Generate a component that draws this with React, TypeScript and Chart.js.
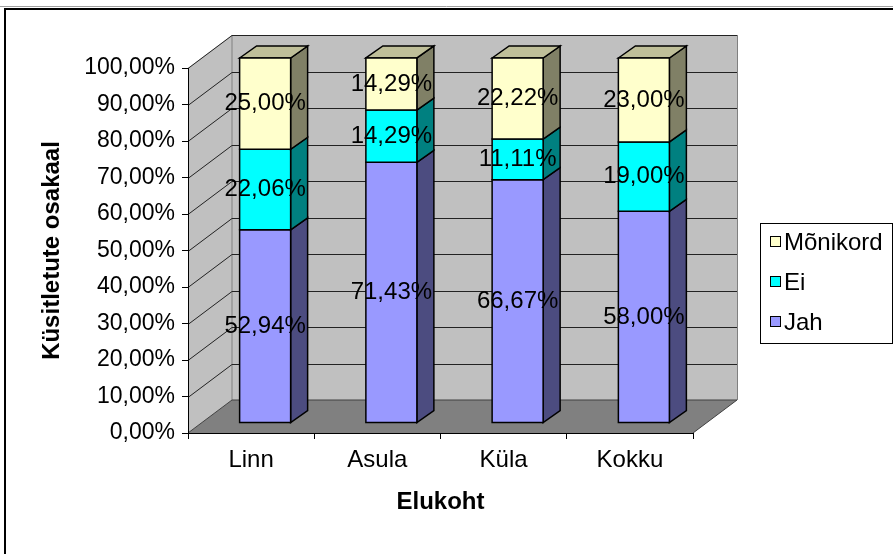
import React, { useEffect, useRef } from 'react';
import { Chart, registerables } from 'chart.js';

Chart.register(...registerables);

const categories = ['Linn', 'Asula', 'Küla', 'Kokku'];
const jahValues = [52.94, 71.43, 66.67, 58.0];
const eiValues = [22.06, 14.29, 11.11, 19.0];
const monikordValues = [25.0, 14.29, 22.22, 23.0];
const seriesNames = ['Jah', 'Ei', 'Mõnikord'];
const yTickLabels = ['0,00%', '10,00%', '20,00%', '30,00%', '40,00%', '50,00%', '60,00%', '70,00%', '80,00%', '90,00%', '100,00%'];
const xTitle = 'Elukoht';
const yTitle = 'Küsitletute osakaal';

const FONT = '"Liberation Sans", Arial, sans-serif';
const FS = 23;
const FL = 24;
const WALL = { x: 44, y: -33 };
const BAR_OFF = { x: 14, y: -10 };
const BAR_DEPTH = { x: 17, y: -12 };

const styles = [
  { front: '#9999FF', side: '#4C4C80', top: '#7373BF' },
  { front: '#00FFFF', side: '#008080', top: '#00BFBF' },
  { front: '#FFFFCC', side: '#808066', top: '#BFBF99' },
];

function poly(ctx: CanvasRenderingContext2D, pts: number[][], fill: string | null, stroke: string | null, lw = 1) {
  ctx.beginPath();
  pts.forEach((p, i) => (i === 0 ? ctx.moveTo(p[0], p[1]) : ctx.lineTo(p[0], p[1])));
  ctx.closePath();
  if (fill) {
    ctx.fillStyle = fill;
    ctx.fill();
  }
  if (stroke) {
    ctx.strokeStyle = stroke;
    ctx.lineWidth = lw;
    ctx.lineJoin = 'miter';
    ctx.stroke();
  }
}

function fmt(v: number) {
  return v.toFixed(2).replace('.', ',') + '%';
}

const excel3d = {
  id: 'excel3d',
  beforeDraw(chart: any) {
    const { ctx, chartArea: a, scales } = chart;
    const y = scales.y;
    ctx.save();
    ctx.fillStyle = '#ffffff';
    ctx.fillRect(0, 0, chart.width, chart.height);
    ctx.strokeStyle = '#a0a0a0';
    ctx.lineWidth = 1;
    ctx.beginPath();
    ctx.moveTo(0, 6.5);
    ctx.lineTo(chart.width, 6.5);
    ctx.stroke();
    ctx.strokeStyle = '#000';
    ctx.lineWidth = 2;
    ctx.beginPath();
    ctx.moveTo(5, chart.height + 5);
    ctx.lineTo(5, 9);
    ctx.lineTo(chart.width + 5, 9);
    ctx.stroke();

    const L = a.left, R = a.right, T = a.top, B = a.bottom;
    const dx = WALL.x, dy = WALL.y;
    poly(ctx, [[L, B], [L, T], [L + dx, T + dy], [L + dx, B + dy]], '#C0C0C0', null);
    poly(ctx, [[L + dx, T + dy], [R + dx, T + dy], [R + dx, B + dy], [L + dx, B + dy]], '#C0C0C0', null);
    poly(ctx, [[L, B], [R, B], [R + dx, B + dy], [L + dx, B + dy]], '#808080', null);
    ctx.strokeStyle = '#808080';
    ctx.lineWidth = 1;
    ctx.beginPath();
    ctx.moveTo(L + dx, B + dy);
    ctx.lineTo(L + dx, T + dy);
    ctx.moveTo(R + dx + 0.5, T + dy);
    ctx.lineTo(R + dx + 0.5, B + dy);
    ctx.stroke();
    ctx.strokeStyle = '#404040';
    ctx.beginPath();
    ctx.moveTo(L, B);
    ctx.lineTo(L + dx, B + dy);
    ctx.lineTo(R + dx, B + dy);
    ctx.lineTo(R, B);
    ctx.stroke();
    ctx.strokeStyle = '#222';
    ctx.lineWidth = 1;
    y.ticks.forEach((t: any) => {
      if (t.value === 0) return;
      const py = Math.round(y.getPixelForValue(t.value)) + 0.5;
      ctx.beginPath();
      ctx.moveTo(L, py);
      ctx.lineTo(L + dx, py + dy);
      ctx.lineTo(R + dx, py + dy);
      ctx.stroke();
    });
    ctx.restore();
  },
  afterDatasetsDraw(chart: any) {
    const { ctx } = chart;
    const n = chart.data.datasets.length;
    ctx.save();
    const labels: any[] = [];
    for (let j = 0; j < chart.data.labels.length; j++) {
      for (let i = 0; i < n; i++) {
        const el = chart.getDatasetMeta(i).data[j];
        const { x, y, base, width } = el.getProps(['x', 'y', 'base', 'width'], true);
        const x0 = x - width / 2 + BAR_OFF.x;
        const x1 = x + width / 2 + BAR_OFF.x;
        const top = y + BAR_OFF.y;
        const bot = base + BAR_OFF.y;
        const st = styles[i];
        poly(ctx, [[x1, top], [x1 + BAR_DEPTH.x, top + BAR_DEPTH.y], [x1 + BAR_DEPTH.x, bot + BAR_DEPTH.y], [x1, bot]], st.side, '#000', 1.5);
        if (i === n - 1) {
          poly(ctx, [[x0, top], [x0 + BAR_DEPTH.x, top + BAR_DEPTH.y], [x1 + BAR_DEPTH.x, top + BAR_DEPTH.y], [x1, top]], st.top, '#000', 1.5);
        }
        poly(ctx, [[x0, top], [x1, top], [x1, bot], [x0, bot]], st.front, '#000', 1.5);
        const v = chart.data.datasets[i].data[j];
        labels.push({ x: (x0 + x1) / 2, y: (top + bot) / 2, t: fmt(v) });
      }
    }
    ctx.fillStyle = '#000';
    ctx.font = `${FL}px ${FONT}`;
    ctx.textAlign = 'center';
    ctx.textBaseline = 'middle';
    labels.forEach((l) => ctx.fillText(l.t, l.x, l.y));
    ctx.restore();
  },
  afterDraw(chart: any) {
    const { ctx } = chart;
    ctx.save();
    ctx.fillStyle = '#fff';
    ctx.fillRect(760, 223, 132, 120);
    ctx.strokeStyle = '#000';
    ctx.lineWidth = 1;
    ctx.strokeRect(760.5, 223.5, 132, 120);
    ctx.font = `${FL}px ${FONT}`;
    ctx.textAlign = 'left';
    ctx.textBaseline = 'middle';
    const ds = chart.data.datasets;
    for (let k = 0; k < ds.length; k++) {
      const i = ds.length - 1 - k;
      const cy = 242 + k * 40;
      ctx.fillStyle = styles[i].front;
      ctx.fillRect(770.5, cy - 5.5, 10, 10);
      ctx.strokeStyle = '#000';
      ctx.strokeRect(770.5, cy - 5.5, 10, 10);
      ctx.fillStyle = '#000';
      ctx.fillText(ds[i].label, 784, cy + 1);
    }
    ctx.restore();
  },
};

export default function App() {
  const ref = useRef<HTMLCanvasElement | null>(null);
  useEffect(() => {
    if (!ref.current) return;
    const seriesValues = [jahValues, eiValues, monikordValues];
    const chart = new Chart(ref.current, {
      type: 'bar',
      data: {
        labels: categories,
        datasets: seriesValues.map((d, i) => ({
          label: seriesNames[i],
          data: d,
          backgroundColor: 'rgba(0,0,0,0)',
          borderWidth: 0,
          categoryPercentage: 1,
          barPercentage: 0.404,
        })),
      },
      options: {
        responsive: false,
        animation: false,
        devicePixelRatio: 1,
        layout: { padding: { top: 68, right: 200, left: 0, bottom: 0 } },
        plugins: { legend: { display: false }, tooltip: { enabled: false } },
        scales: {
          x: {
            stacked: true,
            offset: true,
            grid: { display: true, drawOnChartArea: false, drawTicks: true, tickLength: 6, color: '#000', offset: true },
            border: { display: true, color: '#000', width: 1 },
            ticks: { color: '#000', font: { family: FONT, size: FL }, padding: 7, maxRotation: 0 },
            title: { display: true, text: xTitle, color: '#000', font: { family: FONT, size: FL, weight: 'bold' }, padding: { top: 0, bottom: 37 } },
            afterFit: (s: any) => { s.height = 121; },
          },
          y: {
            stacked: true,
            min: 0,
            max: 100,
            ticks: { stepSize: 10, color: '#000', font: { family: FONT, size: FS }, padding: 7, callback: (_v: any, idx: number) => yTickLabels[idx] },
            grid: { display: true, drawOnChartArea: false, drawTicks: true, tickLength: 6, color: '#000' },
            border: { display: true, color: '#000', width: 1 },
            title: { display: true, text: yTitle, color: '#000', font: { family: FONT, size: FL, weight: 'bold' }, padding: { top: 38, bottom: 0 } },
            afterFit: (s: any) => { s.width = 188; },
          },
        },
      },
      plugins: [excel3d],
    } as any);
    return () => chart.destroy();
  }, []);
  return (
    <div style={{ position: 'fixed', left: 0, top: 0, width: 893, height: 554, background: '#fff' }}>
      <canvas ref={ref} width={893} height={554} />
    </div>
  );
}
